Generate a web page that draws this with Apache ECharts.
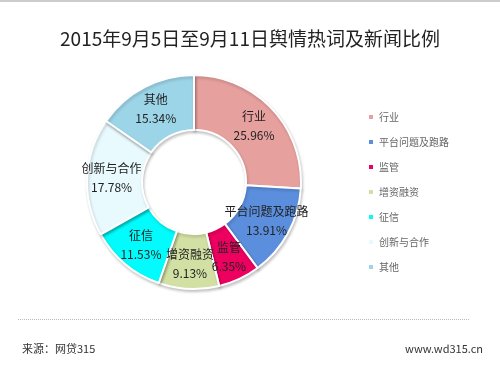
<!DOCTYPE html>
<html><head><meta charset="utf-8">
<script src="https://cdn.jsdelivr.net/npm/echarts@6/dist/echarts.min.js"></script>
<style>html,body{margin:0;padding:0;background:#fff}#c{width:500px;height:365px}</style>
</head><body><div id="c"></div>
<script>
const categories = ['行业','平台问题及跑路','监管','增资融资','征信','创新与合作','其他'];
const values = [25.96, 13.91, 6.35, 9.13, 11.53, 17.78, 15.34];
const colors = ['#E6A09E','#5B8FDE','#EE0060','#D3E0A4','#00FCFC','#E9FAFF','#9DD5E8'];
const titleText = '2015年9月5日至9月11日舆情热词及新闻比例';
const font = '"Noto Sans CJK SC", sans-serif';
const chart = echarts.init(document.getElementById('c'), null, {renderer:'canvas'});
chart.setOption({
  backgroundColor:'#fff',
  animation:false,
  title:{text:titleText,left:'center',top:24,textStyle:{fontFamily:font,fontSize:19,fontWeight:'normal',color:'#222'}},
  legend:{orient:'vertical',left:362,top:107,itemWidth:6,itemHeight:6,itemGap:15,icon:'rect',
    textStyle:{fontFamily:font,fontSize:10,color:'#666'},data:categories},
  graphic:[
    {type:'line',shape:{x1:0,y1:1,x2:500,y2:1},style:{stroke:'#ccc',lineWidth:2}},
    {type:'line',shape:{x1:18,y1:319.5,x2:470,y2:319.5},style:{stroke:'#bbb',lineWidth:1,lineDash:[1,1]}},
    {type:'text',left:22,top:343,style:{text:'来源：网贷315',font:'11px '+font,fill:'#333'}},
    {type:'text',right:17,top:343,style:{text:'www.wd315.cn',font:'11px '+font,fill:'#333'}}
  ],
  series:[{
    type:'pie',center:[194,182],radius:[52,107],startAngle:90,clockwise:true,
    avoidLabelOverlap:false,
    labelLayout:{hideOverlap:false},
    itemStyle:{borderColor:'#fff',borderWidth:2,shadowColor:'rgba(0,0,0,0.2)',shadowBlur:3,shadowOffsetX:1,shadowOffsetY:2},
    label:{show:true,position:'inside',formatter:p=>p.name+'\n'+p.value.toFixed(2)+'%',
      fontFamily:font,fontSize:12,color:'#222',lineHeight:19},
    labelLine:{show:false},
    data:categories.map((n,i)=>({name:n,value:values[i],itemStyle:{color:colors[i]}}))
  }]
});
</script></body></html>
